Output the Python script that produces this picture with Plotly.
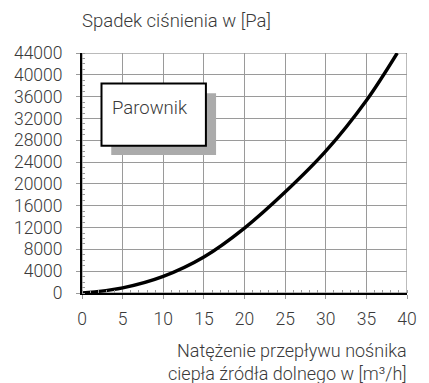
import plotly.graph_objects as go

# Flow rate of the lower-source heat carrier [m3/h] and the evaporator pressure drop [Pa]
flow = [0, 5, 10, 15, 20, 25, 30, 35, 38.8]
pressure_drop = [0, 950, 3050, 6600, 11900, 18500, 26000, 35300, 44000]

x_ticks = [0, 5, 10, 15, 20, 25, 30, 35, 40]
y_ticks = [0, 4000, 8000, 12000, 16000, 20000, 24000, 28000, 32000, 36000, 40000, 44000]

FONT = "Roboto"
WEIGHT = 300
TXT = "#3a3a3a"
GRID = "#9a9a9a"


def font(size=17.5):
    return dict(family=FONT, size=size, color=TXT, weight=WEIGHT)


fig = go.Figure()
fig.add_trace(go.Scatter(
    x=flow, y=pressure_drop, mode="lines",
    line=dict(color="black", width=3.4, shape="spline", smoothing=1.0),
    hoverinfo="skip", showlegend=False,
))

axis_common = dict(
    showline=True, linecolor="black", linewidth=2,
    showgrid=True, gridcolor=GRID, gridwidth=1,
    ticks="outside", ticklen=4, tickcolor=GRID, tickwidth=1,
    tickfont=font(17.5),
    zeroline=False, fixedrange=True,
)

fig.update_xaxes(
    range=[0, 40], tickvals=x_ticks, ticktext=[str(v) for v in x_ticks],
    minor=dict(dtick=1, ticks="inside", ticklen=3, tickcolor=GRID, showgrid=False),
    ticklabelstandoff=5,
    **axis_common,
)
fig.update_yaxes(
    range=[0, 44000], tickvals=y_ticks, ticktext=[str(v) for v in y_ticks],
    minor=dict(dtick=1000, ticks="inside", ticklen=3, tickcolor=GRID, showgrid=False),
    ticklabelstandoff=10,
    **axis_common,
)

shapes = [
    # plot frame (top and right edges)
    dict(type="rect", xref="x", yref="y", x0=0, x1=40, y0=0, y1=44000,
         line=dict(color="#777777", width=1), layer="below"),
    # shadow of the label box
    dict(type="rect", xref="x", yref="y", x0=3.6, x1=16.5, y0=25300, y1=36600,
         fillcolor="#ababab", line=dict(width=0), layer="above"),
    # label box
    dict(type="rect", xref="x", yref="y", x0=2.4, x1=15.25, y0=27000, y1=38400,
         fillcolor="white", line=dict(color="black", width=2), layer="above"),
]

annotations = [
    dict(text="Parownik", xref="x", yref="y", x=3.5, y=34000,
         xanchor="left", yanchor="middle", showarrow=False, font=font(18.5)),
    dict(text="Spadek ciśnienia w [Pa]", xref="paper", yref="paper",
         x=-0.005, y=1.0, yshift=19, xanchor="left", yanchor="bottom",
         showarrow=False, font=font(18.5)),
    dict(text="Natężenie przepływu nośnika<br>ciepła źródła dolnego w [m³/h]",
         xref="paper", yref="paper", x=1.005, y=0, yshift=-45,
         xanchor="right", yanchor="top", align="right", showarrow=False,
         font=font(18)),
]

fig.update_layout(
    width=429, height=383,
    margin=dict(l=82, r=16, t=53, b=90),
    paper_bgcolor="white", plot_bgcolor="white",
    shapes=shapes, annotations=annotations,
    showlegend=False,
)

fig.write_html("out.html", config={"displayModeBar": False})
